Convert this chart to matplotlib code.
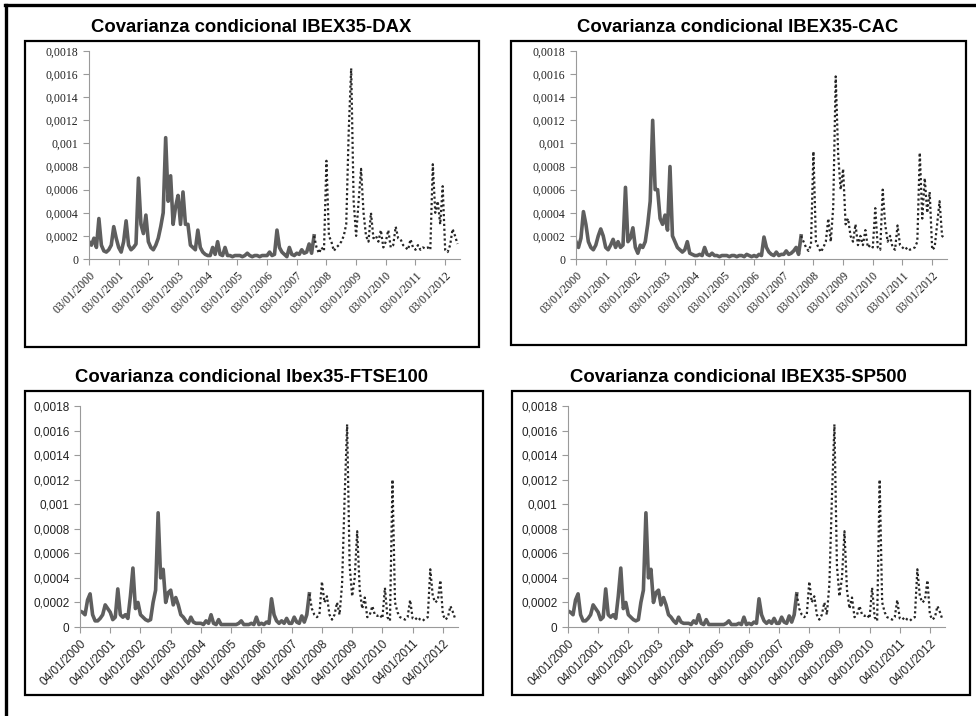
import numpy as np
import matplotlib
matplotlib.use("Agg")
import matplotlib.pyplot as plt
from matplotlib.patches import Rectangle
from matplotlib.lines import Line2D

# ---------------------------------------------------------------- data
# monthly conditional covariance, Jan 2000 .. Jun 2012
dax = [
    0.00015, 0.00012, 0.00018, 0.0001, 0.00035, 0.00012, 0.00007, 0.00006, 0.00008, 0.00012, 0.00028, 0.00018,   # 2000
    0.0001, 0.00006, 0.00015, 0.00033, 0.00012, 0.00008, 0.0001, 0.00013, 0.0007, 0.0003, 0.00022, 0.00038,       # 2001
    0.00015, 0.0001, 0.00008, 0.00012, 0.00018, 0.00028, 0.0004, 0.00105, 0.0005, 0.00072, 0.0003, 0.00045,       # 2002
    0.00055, 0.0003, 0.00058, 0.0003, 0.0003, 0.00012, 0.0001, 0.00008, 0.00025, 0.0001, 0.00006, 0.00004,        # 2003
    0.00003, 0.00003, 0.0001, 0.00004, 0.00015, 0.00004, 0.00003, 0.0001, 0.00003, 0.00003, 0.00002, 0.00003,     # 2004
    0.00003, 0.00003, 0.00002, 0.00003, 0.00005, 0.00003, 0.00002, 0.00003, 0.00003, 0.00002, 0.00003, 0.00003,   # 2005
    0.00003, 0.00006, 0.00003, 0.00004, 0.00025, 0.0001, 0.00006, 0.00004, 0.00002, 0.0001, 0.00004, 0.00003,     # 2006
    0.00005, 0.00004, 0.00008, 0.00005, 0.00006, 0.00013, 0.00005, 0.0002, 0.0001, 0.00005, 0.0001, 0.00007,      # 2007
    0.00085, 0.0002, 0.00015, 0.00007, 0.0001, 0.00012, 0.00015, 0.0002, 0.0003, 0.0011, 0.00165, 0.0005,         # 2008
    0.0002, 0.0005, 0.00078, 0.0004, 0.0002, 0.00015, 0.0004, 0.00018, 0.0002, 0.00015, 0.00025, 0.0001,          # 2009
    0.00015, 0.00025, 0.0001, 0.00012, 0.00028, 0.00018, 0.00017, 0.00012, 0.0001, 0.00008, 0.00017, 0.0001,      # 2010
    0.00008, 0.00012, 0.00008, 0.0001, 0.00009, 0.0001, 0.00008, 0.00082, 0.0004, 0.0005, 0.0003, 0.00063,        # 2011
    0.00008, 0.00006, 0.00012, 0.00026, 0.0002, 0.00013,                                                          # 2012
]
cac = [
    0.00015, 0.0001, 0.00018, 0.00041, 0.0003, 0.00015, 0.0001, 0.00008, 0.00012, 0.0002, 0.00026, 0.0002,        # 2000
    0.0001, 0.00008, 0.00012, 0.00017, 0.0001, 0.00015, 0.0001, 0.00012, 0.00062, 0.00015, 0.00018, 0.00027,      # 2001
    0.0001, 0.00005, 0.00012, 0.0001, 0.00015, 0.0003, 0.0005, 0.0012, 0.0006, 0.0006, 0.00035, 0.0003,           # 2002
    0.00038, 0.00025, 0.0008, 0.0002, 0.00015, 0.0001, 0.00008, 0.00006, 0.00008, 0.00015, 0.00005, 0.00004,      # 2003
    0.00003, 0.00003, 0.00004, 0.00003, 0.0001, 0.00004, 0.00003, 0.00005, 0.00003, 0.00003, 0.00002, 0.00003,    # 2004
    0.00003, 0.00003, 0.00002, 0.00003, 0.00003, 0.00002, 0.00003, 0.00003, 0.00002, 0.00004, 0.00003, 0.00002,   # 2005
    0.00003, 0.00002, 0.00004, 0.00003, 0.00019, 0.0001, 0.00006, 0.00004, 0.00003, 0.00006, 0.00003, 0.00004,    # 2006
    0.00004, 0.00007, 0.00004, 0.00005, 0.00007, 0.0001, 0.00004, 0.0002, 0.00015, 0.0001, 0.00007, 0.00012,      # 2007
    0.00093, 0.00015, 0.0001, 0.00006, 0.0001, 0.00015, 0.00035, 0.00015, 0.00045, 0.00158, 0.0009, 0.0006,       # 2008
    0.00078, 0.0003, 0.00035, 0.0002, 0.00015, 0.0003, 0.00012, 0.0002, 0.00012, 0.00025, 0.0001, 0.00012,        # 2009
    0.0001, 0.00044, 0.0001, 0.00008, 0.0006, 0.0003, 0.00015, 0.0002, 0.0001, 0.00008, 0.00029, 0.00012,         # 2010
    0.0001, 0.00008, 0.0001, 0.00008, 0.00009, 0.0001, 0.00015, 0.00092, 0.00035, 0.0007, 0.0004, 0.00058,        # 2011
    0.00008, 0.0001, 0.0003, 0.0005, 0.0002, 0.00018,                                                             # 2012
]
ftse100 = [
    0.00013, 0.00012, 0.0001, 0.00022, 0.00027, 0.0001, 0.00005, 0.00005, 0.00007, 0.0001, 0.00018, 0.00015,      # 2000
    0.00012, 0.00006, 0.00008, 0.00031, 0.0001, 0.00008, 0.0001, 0.00007, 0.00025, 0.00048, 0.00015, 0.0002,      # 2001
    0.0001, 0.00008, 0.00006, 0.00005, 0.00006, 0.0002, 0.0003, 0.00093, 0.0004, 0.00047, 0.0002, 0.00028,        # 2002
    0.0003, 0.00018, 0.00024, 0.00018, 0.0001, 0.00008, 0.00005, 0.00003, 0.00008, 0.00004, 0.00003, 0.00003,     # 2003
    0.00003, 0.00002, 0.00005, 0.00003, 0.0001, 0.00003, 0.00002, 0.00006, 0.00002, 0.00002, 0.00002, 0.00002,    # 2004
    0.00002, 0.00002, 0.00002, 0.00003, 0.00005, 0.00002, 0.00002, 0.00002, 0.00003, 0.00002, 0.00008, 0.00002,   # 2005
    0.00003, 0.00002, 0.00004, 0.00003, 0.00023, 0.0001, 0.00005, 0.00003, 0.00005, 0.00003, 0.00007, 0.00003,    # 2006
    0.00003, 0.00008, 0.00004, 0.00003, 0.00009, 0.00004, 0.0001, 0.00027, 0.00015, 0.0001, 0.00008, 0.0001,      # 2007
    0.00037, 0.0002, 0.00025, 0.0001, 0.00006, 0.0001, 0.0002, 0.0001, 0.00035, 0.00105, 0.00165, 0.0005,         # 2008
    0.00025, 0.0004, 0.00078, 0.0003, 0.00015, 0.00024, 0.00008, 0.0001, 0.00017, 0.0001, 0.00009, 0.0001,        # 2009
    0.00007, 0.00032, 0.00008, 0.00005, 0.0012, 0.0002, 0.00012, 0.00008, 0.00007, 0.00006, 0.00008, 0.00022,     # 2010
    0.00007, 0.00006, 0.00008, 0.00006, 0.00005, 0.00007, 0.00008, 0.00047, 0.00025, 0.0002, 0.00022, 0.00038,    # 2011
    0.0001, 0.00006, 0.00008, 0.00017, 0.00012, 0.00006,                                                          # 2012
]
sp500 = list(ftse100)   # the two lower panels show the same series

titles = ["Covarianza condicional IBEX35-DAX", "Covarianza condicional IBEX35-CAC",
          "Covarianza condicional Ibex35-FTSE100", "Covarianza condicional IBEX35-SP500"]
series = [dax, cac, ftse100, sp500]
day_prefix = ["03/01/", "03/01/", "04/01/", "04/01/"]
years = list(range(2000, 2013))
split = 91          # Aug 2007: solid -> dotted
yticks = np.arange(0, 0.00181, 0.0002)

# ---------------------------------------------------------------- layout (pixels)
W, H = 976, 716
axes_px = [(89, 259, 371, 208), (576, 259, 371, 208), (80, 627, 378, 221), (568, 627, 377, 221)]
frames_px = [(25, 41, 454, 306), (511, 41, 455, 304), (25, 391, 458, 304), (512, 391, 458, 304)]
title_px = [(251, 28), (738, 28), (251, 377), (738, 377)]

fig = plt.figure(figsize=(W / 100, H / 100), dpi=100)

# outer border (top and left edges only)
fig.add_artist(Line2D([5 / W, 1], [1 - 5 / H, 1 - 5 / H], color="black", lw=2.4))
fig.add_artist(Line2D([6 / W, 6 / W], [0, 1 - 5 / H], color="black", lw=2.4))


def fmt(v):
    if abs(v) < 1e-12:
        return "0"
    return f"{v:.4f}".rstrip("0").replace(".", ",")


for k in range(4):
    fx, fy, fw, fh = frames_px[k]
    fig.add_artist(Rectangle((fx / W, 1 - (fy + fh) / H), fw / W, fh / H,
                             transform=fig.transFigure, fill=False, ec="black", lw=1.6))
    tx, ty = title_px[k]
    fig.text(tx / W, 1 - ty / H, titles[k], ha="center", va="center",
             fontsize=13.3, fontweight="bold", family="Liberation Sans")

    x0, y0, aw, ah = axes_px[k]
    ax = fig.add_axes([x0 / W, 1 - y0 / H, aw / W, ah / H])
    vals = np.array(series[k])
    t = 2000 + np.arange(len(vals)) / 12
    ax.plot(t[:split + 1], vals[:split + 1], color="#5e5e5e", lw=2.6, solid_joinstyle="round")
    ax.plot(t[split:], vals[split:], color="#262626", lw=1.6, ls=(0, (1, 1.2)))

    ax.set_xlim(2000, 2012.5)
    ax.set_ylim(0, 0.0018)
    ax.set_yticks(yticks)
    ax.set_yticklabels([fmt(v) for v in yticks])
    ax.set_xticks(years)
    ax.set_xticklabels([day_prefix[k] + str(y) for y in years], rotation=45,
                       ha="right", rotation_mode="anchor")
    for s in ["top", "right"]:
        ax.spines[s].set_visible(False)
    for s in ["left", "bottom"]:
        ax.spines[s].set_color("#9a9a9a")
        ax.spines[s].set_linewidth(0.8)
    ax.tick_params(colors="#9a9a9a", length=4, width=0.8)
    if k < 2:
        lab_font = dict(family="Liberation Serif", size=8.5)
    else:
        lab_font = dict(family="Liberation Sans", size=8.5)
    for lab in ax.get_xticklabels() + ax.get_yticklabels():
        lab.set_color("#222222")
        lab.set_fontfamily(lab_font["family"])
        lab.set_fontsize(lab_font["size"])
    ax.patch.set_alpha(0)

fig.savefig("out.png", dpi=100)
